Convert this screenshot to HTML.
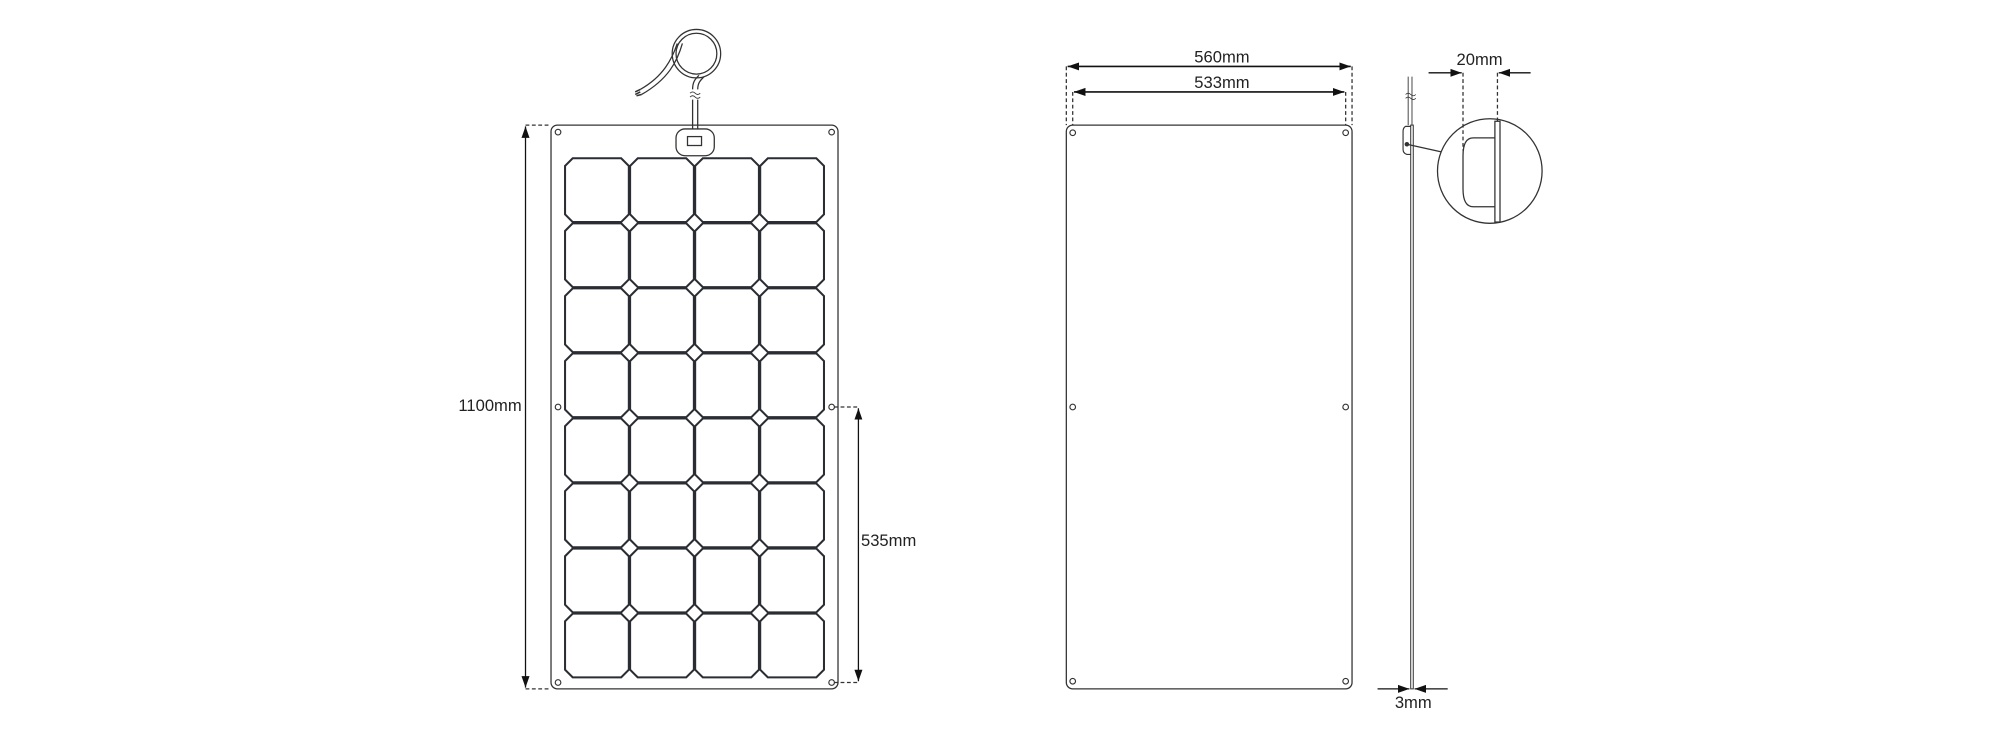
<!DOCTYPE html>
<html><head><meta charset="utf-8"><style>
html,body{margin:0;padding:0;background:#fff;}
svg{display:block;}
text{font-family:"Liberation Sans Narrow","Liberation Sans",sans-serif;font-size:13px;fill:#222;}
</style></head><body>
<svg width="2000" height="740" viewBox="0 0 1568 580" xmlns="http://www.w3.org/2000/svg">
<defs>
<path id="c" d="M6,0 H44 L50,6 V44 L44,50 H6 L0,44 V6 Z" fill="none" stroke="#2a2d33" stroke-width="1.6"/>
<marker id="a" viewBox="0 0 10 10" refX="10" refY="5" markerWidth="9" markerHeight="9" orient="auto-start-reverse" markerUnits="userSpaceOnUse"><path d="M0,1.5 L10,5 L0,8.5 Z" fill="#111"/></marker>
</defs>
<g stroke="#333" fill="none" stroke-width="1">
<!-- left panel -->
<rect x="432" y="98" width="225" height="442" rx="5"/>
<g stroke-width="0.9">
<circle cx="437.5" cy="103.5" r="2.2"/><circle cx="652" cy="103.5" r="2.2"/>
<circle cx="437.5" cy="319" r="2.2"/><circle cx="652" cy="319" r="2.2"/>
<circle cx="437.5" cy="535" r="2.2"/><circle cx="652" cy="535" r="2.2"/>
</g>
<!-- junction box & cable -->
<rect x="530" y="101" width="30" height="21" rx="7"/>
<rect x="539" y="107" width="11" height="7"/>
<path d="M543,101 V78 M547,101 V78"/>
<path d="M541,73 q2,-2 4,0 t4,0 M541,76 q2,-2 4,0 t4,0" stroke-width="0.7"/>
<path d="M543,70 C543,64 545,62 548,59 M547,70 C547,65 549,63 552,60"/>
<circle cx="546" cy="42" r="19"/><circle cx="546" cy="42" r="16"/>
<path d="M531,34 C527,46 520,60 502,70 M535,34 C531,48 524,62 503,74"/>
<path d="M502,70 L498,72 M503,74 L499,75 M502,72 L498,74" stroke-width="1.2"/>
<!-- 1100mm -->
<line x1="412" y1="99" x2="412" y2="539" marker-start="url(#a)" marker-end="url(#a)" stroke="#111"/>
<path d="M412,98 H432 M412,540 H432" stroke-dasharray="3,2"/>
<!-- 535mm -->
<line x1="673" y1="320" x2="673" y2="534" marker-start="url(#a)" marker-end="url(#a)" stroke="#111"/>
<path d="M654,319 H673 M654,535 H673" stroke-dasharray="3,2"/>
<!-- middle panel -->
<rect x="836" y="98" width="224" height="442" rx="5"/>
<g stroke-width="0.9">
<circle cx="841" cy="104" r="2.2"/><circle cx="1055" cy="104" r="2.2"/>
<circle cx="841" cy="319" r="2.2"/><circle cx="1055" cy="319" r="2.2"/>
<circle cx="841" cy="534" r="2.2"/><circle cx="1055" cy="534" r="2.2"/>
</g>
<line x1="837" y1="52" x2="1059" y2="52" marker-start="url(#a)" marker-end="url(#a)" stroke="#111" stroke-width="1.3"/>
<line x1="842" y1="72" x2="1054" y2="72" marker-start="url(#a)" marker-end="url(#a)" stroke="#111" stroke-width="1.3"/>
<path d="M836,52 V98 M1060,52 V98 M841,72 V98 M1055,72 V98" stroke-dasharray="3,2"/>
<!-- side view -->
<rect x="1106" y="98" width="2" height="442" stroke-width="0.8"/>
<path d="M1104,60 V98 M1107,60 V98" stroke-width="0.7"/>
<path d="M1102,74 q2,-2 4,0 t4,0 M1102,77 q2,-2 4,0 t4,0" stroke-width="0.6"/>
<path d="M1106,99 H1102 Q1100,100 1100,103 V117 Q1100,120 1103,121 H1106" stroke-width="0.9"/>
<circle cx="1103" cy="113" r="1.3" fill="#333"/>
<line x1="1103" y1="113" x2="1130" y2="119"/>
<circle cx="1168" cy="134" r="41"/>
<rect x="1172" y="95" width="4" height="79" fill="#fff"/>
<path d="M1172,108 H1155 Q1147,108 1147,122 V148 Q1147,162 1155,162 H1172"/>
<path d="M1147,57 V118 M1174,57 V95" stroke-dasharray="3,2"/>
<line x1="1120" y1="57" x2="1146" y2="57" marker-end="url(#a)" stroke="#111"/>
<line x1="1200" y1="57" x2="1175" y2="57" marker-end="url(#a)" stroke="#111"/>
<line x1="1080" y1="540" x2="1105" y2="540" marker-end="url(#a)" stroke="#111"/>
<line x1="1135" y1="540" x2="1109" y2="540" marker-end="url(#a)" stroke="#111"/>
</g>
<!-- cells -->
<g>
<use href="#c" x="443" y="124"/><use href="#c" x="494" y="124"/><use href="#c" x="545" y="124"/><use href="#c" x="596" y="124"/>
<use href="#c" x="443" y="175"/><use href="#c" x="494" y="175"/><use href="#c" x="545" y="175"/><use href="#c" x="596" y="175"/>
<use href="#c" x="443" y="226"/><use href="#c" x="494" y="226"/><use href="#c" x="545" y="226"/><use href="#c" x="596" y="226"/>
<use href="#c" x="443" y="277"/><use href="#c" x="494" y="277"/><use href="#c" x="545" y="277"/><use href="#c" x="596" y="277"/>
<use href="#c" x="443" y="328"/><use href="#c" x="494" y="328"/><use href="#c" x="545" y="328"/><use href="#c" x="596" y="328"/>
<use href="#c" x="443" y="379"/><use href="#c" x="494" y="379"/><use href="#c" x="545" y="379"/><use href="#c" x="596" y="379"/>
<use href="#c" x="443" y="430"/><use href="#c" x="494" y="430"/><use href="#c" x="545" y="430"/><use href="#c" x="596" y="430"/>
<use href="#c" x="443" y="481"/><use href="#c" x="494" y="481"/><use href="#c" x="545" y="481"/><use href="#c" x="596" y="481"/>
</g>
<text x="409" y="322" text-anchor="end">1100mm</text>
<text x="675" y="428">535mm</text>
<text x="958" y="49" text-anchor="middle">560mm</text>
<text x="958" y="69" text-anchor="middle">533mm</text>
<text x="1160" y="51" text-anchor="middle">20mm</text>
<text x="1108" y="555" text-anchor="middle">3mm</text>
</svg>
</body></html>
